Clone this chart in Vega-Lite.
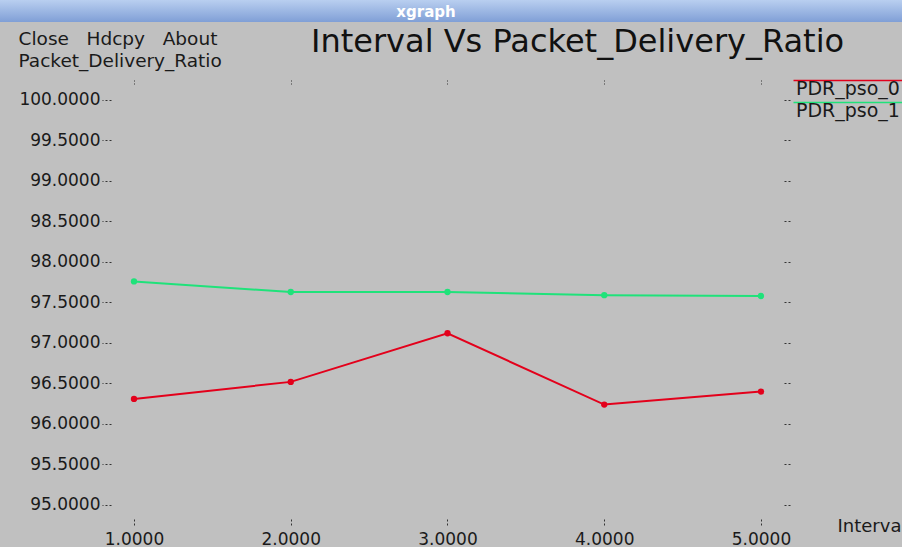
{
  "$schema": "https://vega.github.io/schema/vega-lite/v6.json",
  "padding": 0,
  "background": "#c0c0c0",
  "spacing": 0,
  "bounds": "flush",
  "config": {
    "view": {"stroke": null},
    "axis": {"domain": false, "grid": false, "labelFont": "DejaVu Sans", "labelFontSize": 17, "labelColor": "#1a1a1a", "tickColor": "#333333", "tickDash": [2, 2], "tickWidth": 1, "titleFont": "DejaVu Sans", "titleFontWeight": "normal", "titleColor": "#1a1a1a"}
  },
  "vconcat": [
    {
      "width": 902,
      "height": 22,
      "data": {"values": [{"window": "xgraph"}]},
      "layer": [
        {"mark": {"type": "rect", "color": {"gradient": "linear", "x1": 0, "y1": 0, "x2": 0, "y2": 1, "stops": [{"offset": 0, "color": "#b9cff0"}, {"offset": 1, "color": "#809fd6"}]}}, "encoding": {}},
        {"mark": {"type": "text", "color": "white", "font": "DejaVu Sans", "fontWeight": "bold", "fontSize": 15, "dx": -25, "dy": 1}, "encoding": {"text": {"field": "window"}}}
      ]
    },
    {
      "width": 902,
      "height": 525,
      "view": {"fill": "#c0c0c0"},
      "title": {"text": "Interval Vs Packet_Delivery_Ratio", "anchor": "start", "frame": "group", "dx": 311, "offset": -62, "baseline": "alphabetic", "font": "DejaVu Sans", "fontSize": 32, "fontWeight": "normal", "color": "#111111"},
      "data": {"values": [
        {"Interval": 1, "PDR": 96.31, "series": "PDR_pso_0"},
        {"Interval": 2, "PDR": 96.52, "series": "PDR_pso_0"},
        {"Interval": 3, "PDR": 97.12, "series": "PDR_pso_0"},
        {"Interval": 4, "PDR": 96.24, "series": "PDR_pso_0"},
        {"Interval": 5, "PDR": 96.40, "series": "PDR_pso_0"},
        {"Interval": 1, "PDR": 97.76, "series": "PDR_pso_1"},
        {"Interval": 2, "PDR": 97.63, "series": "PDR_pso_1"},
        {"Interval": 3, "PDR": 97.63, "series": "PDR_pso_1"},
        {"Interval": 4, "PDR": 97.59, "series": "PDR_pso_1"},
        {"Interval": 5, "PDR": 97.58, "series": "PDR_pso_1"}
      ]},
      "resolve": {"axis": {"x": "independent", "y": "independent"}},
      "layer": [
        {
          "mark": {"type": "line", "strokeWidth": 2},
          "encoding": {
            "x": {"field": "Interval", "type": "quantitative", "scale": {"domain": [0.14514, 5.89953], "nice": false, "zero": false},
              "axis": {"orient": "bottom", "offset": -28, "values": [1, 2, 3, 4, 5], "format": ".4f", "tickSize": 6, "labelPadding": 6, "title": "Interval", "titleFontSize": 18, "titleX": 837, "titleY": 12, "titleAlign": "left", "titleBaseline": "alphabetic", "titleAnchor": null}},
            "y": {"field": "PDR", "type": "quantitative", "scale": {"domain": [94.48148, 100.96296], "nice": false, "zero": false},
              "axis": {"orient": "left", "offset": -111, "values": [95, 95.5, 96, 96.5, 97, 97.5, 98, 98.5, 99, 99.5, 100], "format": ".4f", "tickSize": 9, "labelPadding": 2, "title": ["Close\u00a0\u00a0\u00a0Hdcpy\u00a0\u00a0\u00a0About", "Packet_Delivery_Ratio"], "titleFontSize": 18.5, "titleAngle": 0, "titleAlign": "left", "titleBaseline": "alphabetic", "titleX": -93, "titleY": 22, "titleLineHeight": 22, "titleAnchor": null}},
            "color": {"field": "series", "type": "nominal", "scale": {"domain": ["PDR_pso_0", "PDR_pso_1"], "range": ["#e3001b", "#1fe27a"]},
              "legend": {"orient": "none", "legendX": 776, "legendY": 79, "title": null, "padding": 0, "symbolType": "M8,-8H140", "symbolSize": 4, "symbolStrokeWidth": 1.5, "labelOffset": 1, "labelFont": "DejaVu Sans", "labelFontSize": 19, "labelColor": "#1a1a1a", "rowPadding": 0, "symbolFillColor": "transparent"}}
          }
        },
        {
          "mark": {"type": "point", "filled": true, "size": 40, "opacity": 1},
          "encoding": {
            "x": {"field": "Interval", "type": "quantitative", "axis": {"orient": "top", "offset": -62, "values": [1, 2, 3, 4, 5], "labels": false, "tickSize": 6, "tickDash": [1, 2], "title": null}},
            "y": {"field": "PDR", "type": "quantitative", "axis": {"orient": "right", "offset": -118, "values": [95, 95.5, 96, 96.5, 97, 97.5, 98, 98.5, 99, 99.5, 100], "labels": false, "tickSize": 8, "title": null}},
            "color": {"field": "series", "type": "nominal", "legend": null}
          }
        }
      ]
    }
  ]
}
